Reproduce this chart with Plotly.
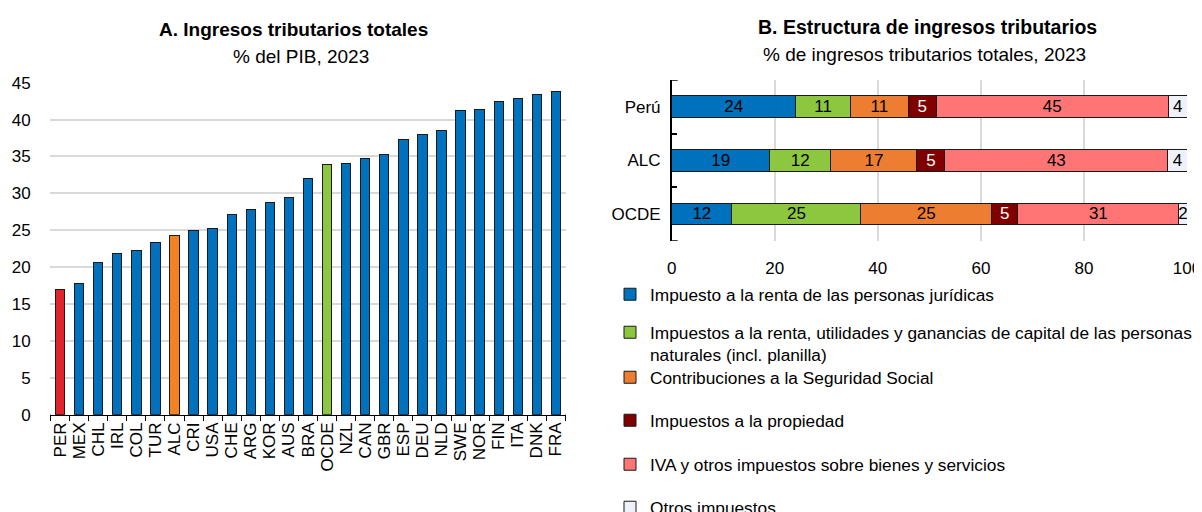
import plotly.graph_objects as go

# ---------------- Panel A data ----------------
countries = ["PER", "MEX", "CHL", "IRL", "COL", "TUR", "ALC", "CRI", "USA", "CHE",
             "ARG", "KOR", "AUS", "BRA", "OCDE", "NZL", "CAN", "GBR", "ESP", "DEU",
             "NLD", "SWE", "NOR", "FIN", "ITA", "DNK", "FRA"]
tax_to_gdp = [17.0, 17.8, 20.6, 21.9, 22.2, 23.4, 24.3, 24.9, 25.2, 27.1,
              27.8, 28.8, 29.4, 32.0, 33.9, 34.0, 34.7, 35.3, 37.3, 38.0,
              38.5, 41.3, 41.4, 42.4, 42.8, 43.4, 43.8]
y_ticks_a = [0, 5, 10, 15, 20, 25, 30, 35, 40, 45]

# ---------------- Panel B data ----------------
regions = ["Perú", "ALC", "OCDE"]
series_names = [
    "Impuesto a la renta de las personas jurídicas",
    "Impuestos a la renta, utilidades y ganancias de capital de las personas<br>naturales (incl. planilla)",
    "Contribuciones a la Seguridad Social",
    "Impuestos a la propiedad",
    "IVA y otros impuestos sobre bienes y servicios",
    "Otros impuestos",
]
corp_income = [24.1, 19.0, 11.7]
personal_income = [10.6, 11.9, 25.0]
social_security = [11.2, 16.7, 25.4]
property_tax = [5.4, 5.4, 5.1]
vat_goods = [45.1, 43.3, 31.2]
other_taxes = [3.6, 3.7, 1.6]
x_ticks_b = [0, 20, 40, 60, 80, 100]

# ---------------- Styles ----------------
FONT = "Liberation Sans, Arial, sans-serif"
BLUE = "#0071BC"
RED = "#E1232B"
ORANGE = "#F58220"
GREEN = "#8DC63F"
GRID = "#D9D9D9"
CLEAR = "rgba(0,0,0,0)"
highlight = {"PER": RED, "ALC": ORANGE, "OCDE": GREEN}
bar_colors_a = [highlight.get(c, BLUE) for c in countries]

series_values = [corp_income, personal_income, social_security,
                 property_tax, vat_goods, other_taxes]
series_colors = ["#0071BC", "#8DC63F", "#ED7D31", "#800000", "#FF7575", "#EEF1F9"]
text_colors = ["black", "black", "black", "white", "black", "black"]

# the page body adds an 8px margin, so the figure is laid out in screen coords shifted by 8px
OFF = 8
W, H = 1202 - OFF, 512 - OFF


def px_x(x):
    return (x - OFF) / W


def px_y(y):
    return 1 - (y - OFF) / H


fig = go.Figure()

fig.add_trace(go.Bar(
    x=countries, y=tax_to_gdp,
    marker=dict(color=bar_colors_a, line=dict(color="#1a1a1a", width=1)),
    xaxis="x", yaxis="y", showlegend=False, hoverinfo="x+y",
))

legend_ids = ["legend", "legend2", "legend3", "legend4", "legend5", "legend6"]
for name, vals, col, tcol, lg in zip(series_names, series_values, series_colors, text_colors, legend_ids):
    fig.add_trace(go.Bar(
        y=regions, x=vals, orientation="h", name=name, width=0.405,
        marker=dict(color=col, line=dict(color="#1a1a1a", width=1)),
        text=vals, texttemplate="%{x:.0f}", textposition="inside", insidetextanchor="middle",
        textangle=0, textfont=dict(family=FONT, size=17, color=tcol),
        xaxis="x2", yaxis="y2", legend=lg,
    ))

layout = dict(
    width=W, height=H,
    margin=dict(l=0, r=0, t=0, b=0, autoexpand=False),
    paper_bgcolor="white", plot_bgcolor="white",
    font=dict(family=FONT, size=17, color="black"),
    barmode="stack",
    bargap=0.51,
    uniformtext=dict(minsize=17, mode="show"),
    xaxis=dict(domain=[px_x(50), px_x(566)], anchor="y", showline=True, linecolor="black",
               linewidth=1, ticks="outside", tickson="boundaries", ticklen=5, tickcolor="black",
               tickangle=-90, tickmode="array", tickvals=countries, ticktext=countries,
               tickfont=dict(size=17), showgrid=False, zeroline=False),
    yaxis=dict(domain=[px_y(414.7), px_y(82.7)], anchor="x", range=[0, 45], tickvals=y_ticks_a,
               showgrid=True, gridcolor=GRID, gridwidth=1.5, zeroline=False, showline=False,
               ticks="outside", ticklen=15, tickcolor=CLEAR, tickfont=dict(size=17)),
    xaxis2=dict(domain=[px_x(671.7), px_x(1187)], anchor="y2", range=[0, 100], tickvals=x_ticks_b,
                showgrid=True, gridcolor=GRID, gridwidth=1.5, zeroline=False, showline=False,
                ticks="outside", ticklen=12, tickcolor=CLEAR, tickfont=dict(size=17)),
    yaxis2=dict(domain=[px_y(240.7), px_y(80)], anchor="x2", range=[2.5, -0.5],
                categoryorder="array", categoryarray=regions, showline=True, linecolor="black",
                linewidth=1.5, ticks="inside", tickson="boundaries", ticklen=6, tickcolor="black",
                tickwidth=1.5, showgrid=False, tickfont=dict(size=17), ticklabelstandoff=6),
)

legend_y = [294, 332, 377, 420, 464, 507]
for i, (lg, yc) in enumerate(zip(legend_ids, legend_y)):
    layout[lg] = dict(
        x=px_x(610), xanchor="left",
        y=px_y(yc - 17.5), yanchor="top",
        bgcolor=CLEAR, font=dict(size=17.3), valign="top",
        itemwidth=30, tracegroupgap=0,
    )

annotations = [
    dict(text="<b>A. Ingresos tributarios totales</b>", x=px_x(293), y=px_y(30), font=dict(size=19)),
    dict(text="% del PIB, 2023", x=px_x(301), y=px_y(56), font=dict(size=19)),
    dict(text="<b>B. Estructura de ingresos tributarios</b>", x=px_x(927), y=px_y(27), font=dict(size=19.5)),
    dict(text="% de ingresos tributarios totales, 2023", x=px_x(924), y=px_y(54), font=dict(size=19)),
]
for a in annotations:
    a.update(xref="paper", yref="paper", showarrow=False, xanchor="center", yanchor="middle")
layout["annotations"] = annotations

# end tick marks at the outer category boundaries (axis decoration)
tick_shapes = []
for yb in (-0.5, len(regions) - 0.5):
    tick_shapes.append(dict(type="line", xref="x2 domain", yref="y2", x0=0, x1=6 / 515.3,
                            y0=yb, y1=yb, line=dict(color="black", width=1.5)))
for xb in (-0.5, len(countries) - 0.5):
    tick_shapes.append(dict(type="line", xref="x", yref="y domain", x0=xb, x1=xb,
                            y0=0, y1=-5 / 332, line=dict(color="black", width=1)))
layout["shapes"] = tick_shapes

fig.update_layout(**layout)
fig.write_html("out.html")
